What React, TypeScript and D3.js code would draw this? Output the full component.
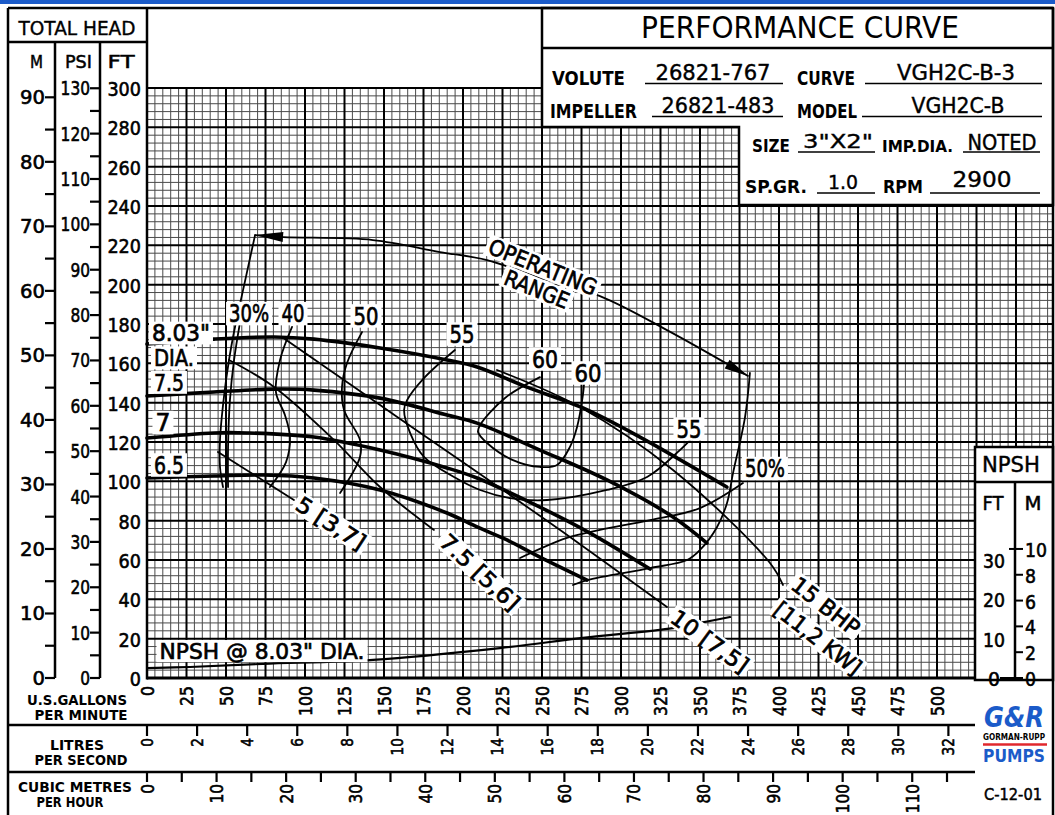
import * as d3 from "d3";

// ---- axis values ----
const gpmLabels = d3.range(0, 501, 25);
const lpsLabels = d3.range(0, 33, 2);
const m3hTicks = d3.range(0, 116, 5);
const headM = d3.range(0, 91, 5);
const headPsi = d3.range(0, 131, 5);
const headFt = d3.range(0, 301, 20);
const npshFt = [0, 10, 20, 30];
const npshM = [0, 2, 4, 6, 8, 10];

const FT_PER_M = 3.2808;
const FT_PER_PSI = 2.3067;
const GPM_PER_LPS = 15.8503;
const GPM_PER_M3H = 4.4029;

// ---- head-capacity curves [gpm, ft] ----
const head803 = [[0, 169.8], [42.4, 172.3], [80.4, 173.4], [105.7, 172.3], [147.5, 167.8], [189.9, 161.7], [208.9, 158.1], [240.5, 147.9], [275.9, 137.3], [312, 122.5], [367, 97.1]];
const head75 = [[0, 143.4], [42.4, 145.4], [80.4, 146.9], [105.7, 146.4], [147.5, 142.3], [189.9, 133.7], [208.9, 129.6], [248.7, 115.9], [291.1, 100.7], [332.9, 81.9], [354.4, 68.6]];
const head70 = [[0, 122], [42.4, 124.6], [63.3, 124.6], [105.7, 122.5], [147.5, 115.9], [189.9, 106.8], [208.9, 101.7], [248.7, 86.9], [280.4, 73.7], [318.4, 55.4]];
const head65 = [[0, 101.7], [42.4, 102.7], [74, 103.2], [105.7, 101.7], [147.5, 95.6], [189.9, 83.9], [208.9, 76.8], [227.8, 70.2], [248.7, 61.5], [278.5, 49.8]];

// ---- efficiency contours ----
const eff30 = [[58.9, 181], [55.1, 161.7], [52.5, 141.4], [51.3, 117.5], [51.3, 97.1]];
const eff40 = [[91.8, 178.5], [84.2, 161.7], [81.6, 145.4], [87.3, 133.7], [90.5, 122.5], [88, 109.8], [77.8, 97.1]];
const eff50L = [[136.1, 175.9], [126.6, 160.2], [123.4, 148], [124.7, 136.3], [134.8, 121], [134.8, 112.4], [122.2, 94.1]];
const eff55 = [[194.9, 166.8], [175.3, 152.5], [164.6, 141.3], [162.7, 136.3], [166.5, 124.6], [175.3, 112.4], [194.3, 102.2], [210.8, 95.6], [229.7, 91.5], [253.2, 90.5], [291.1, 95.6], [316.5, 102.2], [337.3, 115.9], [343.7, 121]];
const eff60 = [[248.7, 153], [226.6, 142.4], [210.8, 128.6], [209.5, 125.1], [215.2, 119.5], [231.6, 110.8], [248.7, 107.3], [259.5, 108.3], [267.7, 117.5], [272.2, 127.6], [275.9, 143.9], [276.6, 149.5]];
const eff50R = [[377.2, 99.1], [350, 86.4], [318.4, 80.3], [286.7, 75.3], [265.8, 71.2], [236.1, 61]];

// ---- brake horsepower lines ----
const bhp5 = [[44.9, 114.9], [69, 102.7], [93, 90.5]];
const bhp75 = [[51.9, 161.7], [80.4, 148], [118.4, 121], [147.5, 97.1], [181.6, 75.3]];
const bhp10 = [[85.4, 173.4], [147.5, 138.8], [208.9, 104.7], [267.7, 71.7], [329.1, 36.1]];
const bhp15 = [[221.5, 156.6], [274, 137.8], [332.9, 105.8], [394.3, 58.5], [402.5, 47.3]];

// ---- operating range ----
const opTop = [[68.4, 225.2], [86.1, 224.2], [143, 222.7], [185.4, 216.6], [215.2, 212.5], [248.7, 203.4], [286.7, 194.2], [329.1, 176.9], [380.4, 153.6]];
const opLeft = [[68.4, 225.2], [60.1, 194.7], [55.7, 178.5], [51.9, 161.7], [48.7, 142.9], [46.2, 121], [46.2, 107.3], [48.1, 97.1]];
const opRight = [[381.6, 155.1], [378.5, 132.7], [370.9, 104.2], [367.1, 89], [360.8, 76.8], [350, 65.1], [341.8, 60], [318.4, 55.9], [278.5, 49.8], [269.6, 47.3]];

// ---- NPSH required @ 8.03" [gpm, ft] ----
const npsh803 = [[0, 2.5], [27.2, 2.8], [73.4, 3.6], [143, 4.6], [223.4, 7.6], [275.9, 10.2], [332.9, 12.7], [350, 14], [369, 15.5]];

// ---- chart labels: text, gpm, ft, rotation, width, size ----
const curveLabels: [string, number, number, number, number, number][] = [
  ['8.03"', 21.5, 175.4, 0, 58, 23],
  ["DIA.", 17.1, 162.8, 0, 40, 23],
  ["7.5", 13.9, 150.3, 0, 30, 23],
  ["7", 10.1, 129.9, 0, 15, 24],
  ["6.5", 13.9, 108.3, 0, 30, 24],
  ["30%", 64.6, 185.3, 0, 40, 24],
  ["40", 92.4, 185.3, 0, 23, 24],
  ["50", 138.6, 184.1, 0, 25, 24],
  ["55", 199.4, 174.9, 0, 25, 24],
  ["60", 251.9, 162.2, 0, 26, 24],
  ["60", 279.1, 155.1, 0, 27, 24],
  ["55", 343, 126.6, 0, 25, 24],
  ["50%", 391.1, 106.5, 0, 40, 24],
  ["5 [3,7]", 116.5, 78.8, 33, 78, 22],
  ["7.5 [5,6]", 210.8, 53.9, 43, 100, 22],
  ["10 [7,5]", 356.3, 18.8, 36, 90, 22],
  ["15 BHP", 429.7, 36.6, 38, 80, 22],
  ["[11,2 KW]", 424.7, 20.3, 38, 104, 22],
  ["OPERATING", 250.6, 209, 22, 115, 22],
  ["RANGE", 246.8, 197.8, 22, 68, 22],
  ['NPSH @ 8.03" DIA.', 72.8, 13.7, 0, 205, 22],
];

const infoLeft = [
  ["VOLUTE", "26821-767"],
  ["IMPELLER", "26821-483"],
];
const infoRight = [
  ["CURVE", "VGH2C-B-3"],
  ["MODEL", "VGH2C-B"],
];
const infoLower = [
  ["SIZE", '3"X2"', "IMP.DIA.", "NOTED"],
  ["SP.GR.", "1.0", "RPM", "2900"],
];

const FONT = "'DejaVu Sans', sans-serif";
const BLUE = "#1b5bc9";

function T(p: any) {
  const { x, y, len, size = 18, anchor = "middle", weight = "normal", fill = "#000", transform, style, baseline, heavy = 0 } = p;
  return (
    <text
      x={x}
      y={y}
      fontSize={size}
      fontFamily={FONT}
      fontWeight={weight}
      textAnchor={anchor}
      fill={fill}
      stroke={heavy ? fill : undefined}
      strokeWidth={heavy || undefined}
      transform={transform}
      style={style}
      dominantBaseline={baseline}
      textLength={len}
      lengthAdjust={len ? "spacingAndGlyphs" : undefined}
    >
      {p.children}
    </text>
  );
}

function arrowPath(tip: number[], from: number[], len: number, half: number) {
  const dx = tip[0] - from[0], dy = tip[1] - from[1];
  const L = Math.hypot(dx, dy);
  const ux = dx / L, uy = dy / L;
  const bx = tip[0] - ux * len, by = tip[1] - uy * len;
  return `M${tip[0]},${tip[1]}L${bx - uy * half},${by + ux * half}L${bx + uy * half},${by - ux * half}Z`;
}

export default function App() {
  const x = d3.scaleLinear().domain([0, 500]).range([147, 937]);
  const y = d3.scaleLinear().domain([0, 300]).range([678, 88]);
  const yNpsh = d3.scaleLinear().domain([0, 150]).range([678, 88]);

  const line = d3.line<number[]>().x(d => x(d[0])).y(d => y(d[1])).curve(d3.curveCatmullRom.alpha(0.5));
  const npshLine = d3.line<number[]>().x(d => x(d[0])).y(d => yNpsh(d[1])).curve(d3.curveCatmullRom.alpha(0.5));
  const px = (d: number[]) => [x(d[0]), y(d[1])];

  const gridX = d3.range(0, 571, 5);
  const gridY = d3.range(0, 301, 4);
  const left = 147, right = 1053;

  const heads = [head803, head75, head70, head65];
  const thin = [eff30, eff40, eff50L, eff55, eff60, eff50R, bhp5, bhp75, bhp10, bhp15];

  const n = opTop.length;

  return (
    <svg width={1055} height={815} style={{ position: "absolute", left: 0, top: 0, background: "#fff" }}>
      <rect x={0} y={0} width={1055} height={4} fill={BLUE} />

      {/* grid */}
      <g>
        {gridX.filter(v => v % 25 !== 0).map(v => (
          <line key={"vx" + v} x1={x(v)} x2={x(v)} y1={y(300)} y2={y(0)} stroke="#4a4a4a" strokeWidth={1} />
        ))}
        {gridY.filter(v => v % 20 !== 0).map(v => (
          <line key={"hy" + v} x1={left} x2={right} y1={y(v)} y2={y(v)} stroke="#4a4a4a" strokeWidth={1} />
        ))}
        {gridX.filter(v => v % 25 === 0).map(v => (
          <line key={"VX" + v} x1={x(v)} x2={x(v)} y1={y(300)} y2={y(0)} stroke="#000" strokeWidth={2} />
        ))}
        {gridY.filter(v => v % 20 === 0).map(v => (
          <line key={"HY" + v} x1={left} x2={right} y1={y(v)} y2={y(v)} stroke="#000" strokeWidth={2} />
        ))}
      </g>

      {/* curves */}
      <g fill="none" stroke="#000" strokeLinejoin="round" strokeLinecap="round">
        {thin.map((c, i) => (
          <path key={"t" + i} d={line(c as any) || ""} strokeWidth={1.8} />
        ))}
        <path d={line(opTop as any) || ""} strokeWidth={1.8} />
        <path d={line(opLeft as any) || ""} strokeWidth={1.8} />
        <path d={line(opRight as any) || ""} strokeWidth={1.8} />
        <path d={npshLine(npsh803 as any) || ""} strokeWidth={2.2} />
        {heads.map((c, i) => (
          <path key={"h" + i} d={line(c as any) || ""} strokeWidth={3.6} />
        ))}
      </g>
      <path d={arrowPath(px(opTop[0]), px(opTop[1]), 28, 5)} fill="#000" />
      <path d={arrowPath(px(opTop[n - 1]), px(opTop[n - 2]), 24, 5)} fill="#000" />

      {/* curve labels */}
      {curveLabels.map(([t, g, f, rot, len, size], i) => {
        const h = size * 0.73;
        return (
          <g key={"lb" + i} transform={`translate(${x(g)},${y(f)}) rotate(${rot})`}>
            <rect x={-len / 2 - 3} y={-h / 2 - 3} width={len + 6} height={h + 6} fill="#fff" />
            <T x={0} y={h / 2} size={size} len={len} heavy={0.7}>{t}</T>
          </g>
        );
      })}

      {/* plot borders */}
      <line x1={left} x2={975} y1={y(0)} y2={y(0)} stroke="#000" strokeWidth={3} />
      <line x1={left} x2={left} y1={8} y2={y(0) + 1.5} stroke="#000" strokeWidth={2.5} />

      {/* title block */}
      <path d="M542,8H1053V205H739V127H542Z" fill="#fff" stroke="#000" strokeWidth={2.5} />
      <line x1={542} x2={1053} y1={48} y2={48} stroke="#000" strokeWidth={2.5} />
      <T x={800} y={38} size={30} len={318}>PERFORMANCE CURVE</T>
      {infoLeft.map(([lab, val], i) => {
        const by = i === 0 ? 85 : 118;
        const lx0 = i === 0 ? 645 : 652;
        return (
          <g key={"il" + i}>
            <T x={i === 0 ? 552 : 550} y={by} size={19} weight="bold" anchor="start" len={i === 0 ? 73 : 87}>{lab}</T>
            <line x1={lx0} x2={783} y1={by - 1.5} y2={by - 1.5} stroke="#000" strokeWidth={1.5} />
            <T x={i === 0 ? 713 : 718} y={by - 5} size={21} len={i === 0 ? 115 : 113} heavy={0.4}>{val}</T>
          </g>
        );
      })}
      {infoRight.map(([lab, val], i) => {
        const by = i === 0 ? 85 : 118;
        return (
          <g key={"ir" + i}>
            <T x={797} y={by} size={19} weight="bold" anchor="start" len={i === 0 ? 58 : 60}>{lab}</T>
            <line x1={i === 0 ? 865 : 862} x2={1042} y1={by - 1.5} y2={by - 1.5} stroke="#000" strokeWidth={1.5} />
            <T x={i === 0 ? 956 : 958} y={by - 5} size={21} len={i === 0 ? 118 : 93} heavy={0.4}>{val}</T>
          </g>
        );
      })}
      {infoLower.map(([l1, v1, l2, v2], i) => {
        const by = i === 0 ? 152 : 193;
        return (
          <g key={"lo" + i}>
            <T x={i === 0 ? 752 : 745} y={by} size={18} weight="bold" anchor="start" len={i === 0 ? 38 : 62}>{l1}</T>
            <line x1={i === 0 ? 798 : 817} x2={875} y1={by} y2={by} stroke="#000" strokeWidth={1.5} />
            <T x={i === 0 ? 838 : 843} y={by - 4} size={20} len={i === 0 ? 70 : 30} heavy={0.4}>{v1}</T>
            <T x={i === 0 ? 882 : 883} y={by} size={i === 0 ? 16 : 18} weight="bold" anchor="start" len={i === 0 ? 71 : 40}>{l2}</T>
            <line x1={i === 0 ? 963 : 930} x2={1040} y1={by} y2={by} stroke="#000" strokeWidth={1.5} />
            <T x={i === 0 ? 1002 : 982} y={by - (i === 0 ? 2 : 6)} size={21} len={i === 0 ? 69 : 59} heavy={0.4}>{v2}</T>
          </g>
        );
      })}

      {/* NPSH box */}
      <rect x={975} y={447} width={78} height={233} fill="#fff" stroke="#000" strokeWidth={2.5} />
      <rect x={977} y={682} width={75} height={133} fill="#fff" />
      <line x1={975} x2={1053} y1={482} y2={482} stroke="#000" strokeWidth={2.5} />
      <line x1={1015} x2={1015} y1={482} y2={yNpsh(0)} stroke="#000" strokeWidth={2.5} />
      <T x={1011} y={472} size={21} len={58} heavy={0.4}>NPSH</T>
      <T x={993} y={510} size={19} len={21} heavy={0.5}>FT</T>
      <T x={1033} y={510} size={19} len={17} heavy={0.5}>M</T>
      {npshFt.map(v => (
        <T key={"nf" + v} x={v === 0 ? 1000 : 1005} y={yNpsh(v) + 8} size={19} anchor="end" len={v === 0 ? 12 : 22} heavy={0.6}>{String(v)}</T>
      ))}
      <line x1={1000} x2={1015} y1={yNpsh(0)} y2={yNpsh(0)} stroke="#000" strokeWidth={2} />
      {npshM.map(v => (
        <g key={"nm" + v}>
          <line x1={v === 10 ? 1009 : 1015} x2={1023} y1={yNpsh(v * FT_PER_M)} y2={yNpsh(v * FT_PER_M)} stroke="#000" strokeWidth={2} />
          <T x={1025} y={yNpsh(v * FT_PER_M) + 8} size={19} anchor="start" len={v === 10 ? 22 : 11} heavy={0.6}>{String(v)}</T>
        </g>
      ))}

      {/* left head axes */}
      <line x1={8} x2={147} y1={42} y2={42} stroke="#000" strokeWidth={2.5} />
      <T x={77} y={35} size={20} len={117} heavy={0.4}>TOTAL HEAD</T>
      <T x={36.5} y={68} size={18} len={13} heavy={0.5}>M</T>
      <T x={78.5} y={68} size={18} len={27} heavy={0.5}>PSI</T>
      <T x={121} y={68} size={18} len={27} heavy={0.5}>FT</T>
      <line x1={55} x2={55} y1={42} y2={y(0)} stroke="#000" strokeWidth={2.5} />
      <line x1={100} x2={100} y1={42} y2={y(0)} stroke="#000" strokeWidth={2.5} />
      {headM.map(v => (
        <g key={"m" + v}>
          <line x1={45} x2={55} y1={y(v * FT_PER_M)} y2={y(v * FT_PER_M)} stroke="#000" strokeWidth={2.2} />
          {v % 10 === 0 && (
            <T x={45} y={y(v * FT_PER_M) + 7} size={19} anchor="end" len={String(v).length * 12.5} heavy={0.6}>{String(v)}</T>
          )}
        </g>
      ))}
      {headPsi.map(v => (
        <g key={"p" + v}>
          <line x1={90} x2={100} y1={y(v * FT_PER_PSI)} y2={y(v * FT_PER_PSI)} stroke="#000" strokeWidth={2.2} />
          {v % 10 === 0 && (
            <T x={90} y={y(v * FT_PER_PSI) + 7} size={19} anchor="end" len={String(v).length * 9.8} heavy={0.6}>{String(v)}</T>
          )}
        </g>
      ))}
      {headFt.map(v => (
        <T key={"f" + v} x={141} y={y(v) + 8} size={19} anchor="end" len={String(v).length * 11.2} heavy={0.6}>{String(v)}</T>
      ))}

      {/* flow axes */}
      {gpmLabels.map(v => (
        <T key={"g" + v} transform={`translate(${x(v)},686) rotate(-90)`} x={0} y={0} size={18} anchor="end" baseline="central" len={String(v).length * 10} heavy={0.6}>{String(v)}</T>
      ))}
      <line x1={8} x2={975} y1={725} y2={725} stroke="#000" strokeWidth={2.5} />
      {lpsLabels.map(v => (
        <g key={"l" + v}>
          <line x1={x(v * GPM_PER_LPS)} x2={x(v * GPM_PER_LPS)} y1={725} y2={736} stroke="#000" strokeWidth={2.2} />
          <T transform={`translate(${x(v * GPM_PER_LPS)},738) rotate(-90)`} x={0} y={0} size={16} anchor="end" baseline="central" len={String(v).length * 8.7} heavy={0.6}>{String(v)}</T>
        </g>
      ))}
      <line x1={8} x2={975} y1={772} y2={772} stroke="#000" strokeWidth={2.5} />
      {m3hTicks.map(v => (
        <g key={"c" + v}>
          <line x1={x(v * GPM_PER_M3H)} x2={x(v * GPM_PER_M3H)} y1={772} y2={782} stroke="#000" strokeWidth={2.2} />
          {v % 10 === 0 && (
            <T transform={`translate(${x(v * GPM_PER_M3H)},784) rotate(-90)`} x={0} y={0} size={18} anchor="end" baseline="central" len={String(v).length * 9.8} heavy={0.6}>{String(v)}</T>
          )}
        </g>
      ))}
      <T x={77} y={705} size={14} weight="bold" len={100}>U.S.GALLONS</T>
      <T x={81} y={720} size={14} weight="bold" len={93}>PER MINUTE</T>
      <T x={77} y={750} size={14} weight="bold" len={54}>LITRES</T>
      <T x={81} y={765} size={14} weight="bold" len={93}>PER SECOND</T>
      <T x={75} y={792} size={14} weight="bold" len={114}>CUBIC METRES</T>
      <T x={70} y={807} size={14} weight="bold" len={67}>PER HOUR</T>

      {/* logo */}
      <T x={1014} y={727} size={29} weight="900" fill={BLUE} len={60} style={{ fontStyle: "italic" }}>G&amp;R</T>
      <T x={1014} y={740} size={8} weight="bold" len={62}>GORMAN-RUPP</T>
      <line x1={983} x2={1047} y1={744.5} y2={744.5} stroke="#e0282e" strokeWidth={2.5} />
      <T x={1014} y={762} size={18} weight="900" fill={BLUE} len={62}>PUMPS</T>
      <T x={1013} y={800} size={16} len={58} heavy={0.5}>C-12-01</T>

      {/* outer frame */}
      <line x1={8} x2={1053} y1={8} y2={8} stroke="#000" strokeWidth={2.5} />
      <line x1={8} x2={8} y1={8} y2={815} stroke="#000" strokeWidth={2.5} />
      <line x1={1053} x2={1053} y1={8} y2={815} stroke="#000" strokeWidth={2.5} />
    </svg>
  );
}
